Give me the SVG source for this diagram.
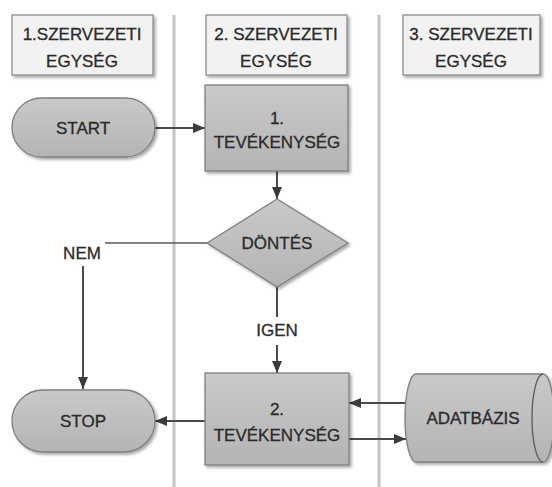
<svg xmlns="http://www.w3.org/2000/svg" width="552" height="487" viewBox="0 0 552 487">
<style>
  text{font-family:"Liberation Sans",Arial,sans-serif;font-size:17px;fill:#2a2a2a;stroke:#2a2a2a;stroke-width:0.3;text-anchor:middle}
  .hdr{fill:#f2f2f2;stroke:#8c8c8c;stroke-width:1.3}
  .nd{fill:url(#g);stroke:#7f7f7f;stroke-width:1.3}
  .lane{stroke:#c4c4c4;stroke-width:3;fill:none}
  .cn{stroke:#4a4a4a;stroke-width:2;fill:none}
  .ln{stroke:#5a5a5a;stroke-width:1.3;fill:none}
</style>
<defs>
  <linearGradient id="g" x1="0" y1="0" x2="0" y2="1">
    <stop offset="0" stop-color="#c9c9c9"/>
    <stop offset="1" stop-color="#b4b4b4"/>
  </linearGradient>
  <filter id="sh" x="-10%" y="-10%" width="125%" height="130%">
    <feDropShadow dx="2" dy="2" stdDeviation="1.5" flood-color="#000" flood-opacity="0.35"/>
  </filter>
  <marker id="ar" viewBox="0 0 12 10" refX="12" refY="5" markerWidth="12" markerHeight="10" markerUnits="userSpaceOnUse" orient="auto">
    <path d="M0,0 L12,5 L0,10 z" fill="#3a3a3a"/>
  </marker>
</defs>
<rect width="552" height="487" fill="#fff"/>
<g id="lanes">
  <line class="lane" x1="174" y1="15" x2="174" y2="487"/>
  <line class="lane" x1="379" y1="15" x2="379" y2="487"/>
</g>
<g id="header1"><rect class="hdr" x="12" y="15" width="141" height="60" filter="url(#sh)"/><text x="82" y="40">1.SZERVEZETI</text><text x="82" y="67">EGYSÉG</text></g>
<g id="header2"><rect class="hdr" x="206" y="15" width="141" height="60" filter="url(#sh)"/><text x="276" y="40">2. SZERVEZETI</text><text x="276" y="67">EGYSÉG</text></g>
<g id="header3"><rect class="hdr" x="403" y="15" width="137" height="60" filter="url(#sh)"/><text x="471" y="40">3. SZERVEZETI</text><text x="471" y="67">EGYSÉG</text></g>
<g id="connectors">
  <line class="cn" x1="155" y1="128" x2="205" y2="128" marker-end="url(#ar)"/>
  <line class="cn" x1="277" y1="171" x2="277" y2="199" marker-end="url(#ar)"/>
  <polyline class="ln" points="207,243 105,243"/>
  <line class="cn" x1="83" y1="266" x2="83" y2="389" marker-end="url(#ar)"/>
  <line class="cn" x1="277" y1="287" x2="277" y2="317"/>
  <line class="cn" x1="277" y1="345" x2="277" y2="373" marker-end="url(#ar)"/>
  <line class="cn" x1="205" y1="421" x2="155" y2="421" marker-end="url(#ar)"/>
  <line class="cn" x1="407" y1="403" x2="349" y2="403" marker-end="url(#ar)"/>
  <line class="cn" x1="349" y1="439" x2="406" y2="439" marker-end="url(#ar)"/>
  <text x="82" y="259">NEM</text>
  <text x="277" y="336">IGEN</text>
</g>
<g id="start"><rect class="nd" x="12" y="98" width="143" height="59" rx="29.5" filter="url(#sh)"/><text x="83" y="134">START</text></g>
<g id="act1"><rect class="nd" x="205" y="85" width="143" height="86" filter="url(#sh)"/><text x="277" y="124">1.</text><text x="277" y="148">TEVÉKENYSÉG</text></g>
<g id="decision"><polygon class="nd" points="277,199 348,243 277,287 207,243" filter="url(#sh)"/><text x="277" y="249">DÖNTÉS</text></g>
<g id="stop"><rect class="nd" x="12" y="390" width="143" height="62" rx="31" filter="url(#sh)"/><text x="83" y="427">STOP</text></g>
<g id="act2"><rect class="nd" x="205" y="373" width="144" height="92" filter="url(#sh)"/><text x="277" y="415">2.</text><text x="277" y="441">TEVÉKENYSÉG</text></g>
<g id="db">
  <path class="nd" d="M416,374 L543,374 A11,44 0 0 1 543,462 L416,462 A11,44 0 0 1 416,374 z" filter="url(#sh)"/>
  <path class="ln" d="M543,374 A11,44 0 0 0 543,462" stroke="#7f7f7f"/>
  <text x="473" y="424">ADATBÁZIS</text>
</g>
</svg>
